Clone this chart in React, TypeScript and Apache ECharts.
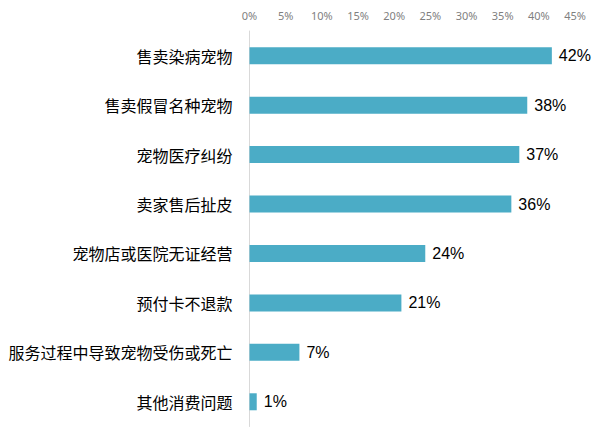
import React, { useEffect, useRef } from "react";
import * as echarts from "echarts";

const categories = [
  "售卖染病宠物",
  "售卖假冒名种宠物",
  "宠物医疗纠纷",
  "卖家售后扯皮",
  "宠物店或医院无证经营",
  "预付卡不退款",
  "服务过程中导致宠物受伤或死亡",
  "其他消费问题",
];
const values = [41.8, 38.4, 37.3, 36.2, 24.3, 21.0, 6.9, 1.0];
const tickMax = 45;
const tickStep = 5;

export default function App() {
  const ref = useRef<HTMLDivElement>(null);
  useEffect(() => {
    if (!ref.current) return;
    const chart = echarts.init(ref.current, null, { renderer: "svg" });
    chart.setOption({
      animation: false,
      backgroundColor: "#ffffff",
      grid: { left: 249.5, right: 25, top: 31, bottom: 15.5, containLabel: false },
      xAxis: {
        type: "value",
        position: "top",
        min: 0,
        max: tickMax,
        interval: tickStep,
        axisLine: { show: false },
        axisTick: { show: false },
        splitLine: { show: false },
        axisLabel: {
          formatter: "{value}%",
          color: "#7f7f7f",
          fontSize: 11,
          fontFamily: "Noto Sans, sans-serif",
          margin: 10,
        },
      },
      yAxis: {
        type: "category",
        data: categories,
        inverse: true,
        axisLine: { show: true, lineStyle: { color: "#d9d9d9", width: 1 } },
        axisTick: { show: false },
        axisLabel: {
          color: "#000000",
          fontSize: 16,
          fontFamily: "Noto Sans CJK SC, sans-serif",
          margin: 17,
        },
      },
      series: [
        {
          type: "bar",
          data: values,
          barWidth: 17,
          itemStyle: { color: "#4bacc6" },
          label: {
            show: true,
            position: "right",
            distance: 7,
            color: "#000000",
            fontSize: 16,
            fontFamily: "Liberation Sans, Arial, sans-serif",
            formatter: (p: any) => Math.round(p.value) + "%",
          },
        },
      ],
    });
    return () => chart.dispose();
  }, []);
  return (
    <div
      style={{
        position: "absolute",
        left: 0,
        top: 0,
        width: 600,
        height: 442,
        boxSizing: "border-box",
        border: "1px solid #d9d9d9",
        background: "#fff",
      }}
    >
      <div ref={ref} style={{ position: "absolute", left: -1, top: -1, width: 600, height: 442 }} />
    </div>
  );
}
